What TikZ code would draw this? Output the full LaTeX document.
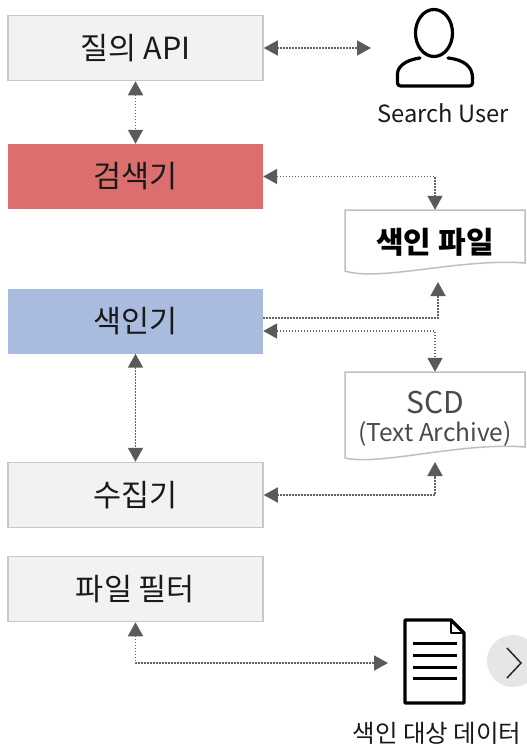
\documentclass[tikz,border=0pt]{standalone}
\usepackage{fontspec}
\setmainfont{Noto Sans CJK KR}
\usetikzlibrary{arrows.meta}
\definecolor{boxgray}{HTML}{F2F2F2}
\definecolor{boxline}{HTML}{C8C8C8}
\definecolor{redfill}{HTML}{DC6E6E}
\definecolor{bluefill}{HTML}{A9BBDF}
\definecolor{conngray}{HTML}{626262}
\definecolor{tipgray}{HTML}{5A5A5A}
\definecolor{docline}{HTML}{BFBFBF}
\definecolor{textgray}{HTML}{4A4A4A}
\definecolor{circfill}{HTML}{E6E6E6}
\tikzset{gtip/.tip={Triangle[length=14pt,width=15pt,color=tipgray]}}
\begin{document}
\begin{tikzpicture}[x=1pt,y=-1pt,
  box/.style={minimum width=255pt,minimum height=65pt,inner sep=0pt,font=\fontsize{30.5}{34}\selectfont,text=black!90},
  graybox/.style={box,fill=boxgray,draw=boxline,line width=1.5pt},
  connline/.style={draw=conngray,line width=1.8pt,dash pattern=on 1.6pt off 1.4pt},
  conn/.style={connline,gtip-gtip},
  connR/.style={connline,-gtip},
  docshape/.style={draw=docline,line width=1.5pt,fill=white},
  docbox/.style={minimum width=180pt,inner sep=0pt},
  icon/.style={draw=black,line width=3.2pt,line join=round,line cap=round},
  lbl/.style={inner sep=0pt,text=black!90}
]
\useasboundingbox (0,0) rectangle (527,752);

% left column boxes
\node[graybox] (qapi) at (135.5,48) {질의 API};
\node[box,fill=redfill] (srch) at (135.5,176.5) {검색기};
\node[box,fill=bluefill] (idxr) at (135.5,321) {색인기};
\node[graybox] (coll) at (135.5,495) {수집기};
\node[graybox] (filt) at (135.5,589) {파일 필터};

% document shapes
\path[docshape] (345,210) -- (525,210) -- (525,263) .. controls (460,258) and (380,282) .. (345,271) -- cycle;
\node[docbox,minimum height=64pt,font=\fontsize{30}{34}\selectfont\bfseries] (idxf) at (435,242) {색인 파일};

\path[docshape] (345,372) -- (525,372) -- (525,447) .. controls (460,442) and (380,466) .. (345,458) -- cycle;
\node[docbox,minimum height=86pt] (scd) at (435,415) {};
\node[inner sep=0pt,font=\fontsize{30}{34}\selectfont,text=textgray] (scdt1) at (435,403) {SCD};
\node[inner sep=0pt,font=\fontsize{24.5}{28}\selectfont,text=textgray] (scdt2) at (435,434) {(Text Archive)};

% search user icon
\draw[icon] (434,33) ellipse [x radius=18.5pt, y radius=23.5pt];
\draw[icon,rounded corners=3pt] (420,58) .. controls (405,60) and (397.5,67) .. (397.5,77) -- (397.5,86) -- (472.5,86) -- (472.5,77);
\draw[icon] (472.5,78) .. controls (472.5,67) and (465,60) .. (448,58);
\node[lbl,font=\fontsize{23.7}{28}\selectfont] (ulabel) at (443,113) {Search User};

% data document icon
\draw[icon,line width=3.4pt] (405,620) -- (451,620) -- (464,633) -- (464,703) -- (405,703) -- cycle;
\draw[icon,line width=2.4pt] (451,620) -- (451,633) -- (464,633);
\foreach \yy in {643,655,667,678} \draw[icon,line width=3pt,line cap=butt] (413,\yy) -- (457,\yy);
\node[lbl,font=\fontsize{24.5}{28}\selectfont] (dlabel) at (437,733) {색인 대상 데이터};

% next button
\fill[circfill] (513,661) circle [radius=26pt];
\draw[draw=black!85,line width=1.5pt] (507,648) -- (521,663) -- (507,678);

% connector end points
\coordinate (userL) at (371,48);
\coordinate (idxfB) at (438,282);
\coordinate (scdB) at (435,462);
\coordinate (docL) at (388,663);

% connectors
\draw[conn] (qapi.east) -- (userL);
\draw[conn] (qapi.south) -- (srch.north);
\draw[conn] (srch.east) -| (idxf.north);
\draw[connR] ([yshift=3pt]idxr.east) -| (idxfB);
\draw[conn] ([yshift=-10pt]idxr.east) -| (scd.north);
\draw[conn] (idxr.south) -- (coll.north);
\draw[conn] (coll.east) -| (scdB);
\draw[conn] (filt.south) |- (docL);
\end{tikzpicture}
\end{document}
